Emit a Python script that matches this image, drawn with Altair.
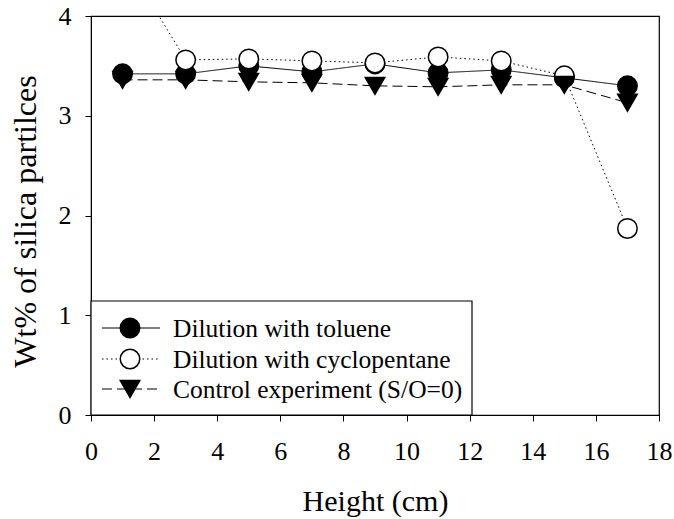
import altair as alt
import pandas as pd

heights = [1, 3, 5, 7, 9, 11, 13, 15, 17]
toluene = [3.42, 3.42, 3.50, 3.44, 3.52, 3.43, 3.46, 3.38, 3.30]
cyclopentane = [4.60, 3.56, 3.57, 3.55, 3.53, 3.59, 3.55, 3.40, 1.87]
control = [3.36, 3.36, 3.34, 3.33, 3.30, 3.29, 3.31, 3.31, 3.13]

names = ["Dilution with toluene", "Dilution with cyclopentane", "Control experiment (S/O=0)"]
series = [toluene, cyclopentane, control]

FONT = "Liberation Serif"
W, H = 568, 399

x_scale = alt.Scale(domain=[0, 18], nice=False, zero=False)
y_scale = alt.Scale(domain=[0, 4], nice=False)

x_axis = alt.Axis(values=list(range(0, 19, 2)), title="Height (cm)", grid=False,
                  tickSize=6, labelPadding=17, labelFontSize=26,
                  titleFontSize=30, labelFont=FONT, titleFont=FONT,
                  titleBaseline="alphabetic", titleY=95,
                  domainColor="black", tickColor="black", labelColor="black",
                  titleColor="black", titleFontWeight="normal", labelFlush=False)
y_axis = alt.Axis(values=[0, 1, 2, 3, 4], title="Wt% of silica partilces", grid=False,
                  tickSize=6, labelPadding=14, labelFontSize=26,
                  titleFontSize=32, labelFont=FONT, titleFont=FONT,
                  titleBaseline="alphabetic", titleX=-56, titleY=205, titleAngle=270,
                  titleAlign="center",
                  domainColor="black", tickColor="black", labelColor="black",
                  titleColor="black", titleFontWeight="normal", labelFlush=False)

styles = [
    dict(dash=[1, 0], fill="black", shape="circle"),
    dict(dash=[1.5, 3], fill="white", shape="circle"),
    dict(dash=[10, 5], fill="black", shape="triangle-down"),
]

line_layers = []
point_layers = []
for i, (name, vals) in enumerate(zip(names, series)):
    df = pd.DataFrame({"Height": heights, "Wt": vals, "Series": name})
    st = styles[i]
    base = alt.Chart(df).encode(
        x=alt.X("Height:Q", scale=x_scale, axis=x_axis),
        y=alt.Y("Wt:Q", scale=y_scale, axis=y_axis),
    )
    line_layers.append(base.mark_line(color="black", strokeWidth=1, strokeDash=st["dash"], clip=True))
    point_layers.append(base.mark_point(shape=st["shape"], size=380, filled=True, fill=st["fill"],
                                        stroke="black", strokeWidth=1.5, opacity=1, clip=True))

# legend box and entries (layout in pixels)
leg_df = pd.DataFrame({"label": names})
legend_layers = [
    alt.Chart(leg_df.head(1)).mark_rect(fill="white", stroke="black", strokeWidth=1.2).encode(
        x=alt.value(0), x2=alt.value(381), y=alt.value(285), y2=alt.value(H))
]
row_y = [312, 343, 373]
for i, name in enumerate(names):
    st = styles[i]
    d = leg_df.iloc[[i]]
    legend_layers.append(alt.Chart(d).mark_rule(color="black", strokeWidth=1, strokeDash=st["dash"]).encode(
        x=alt.value(11), x2=alt.value(69), y=alt.value(row_y[i])))
    legend_layers.append(alt.Chart(d).mark_point(shape=st["shape"], size=380, filled=True, fill=st["fill"],
                                                 stroke="black", strokeWidth=1.5, opacity=1).encode(
        x=alt.value(39), y=alt.value(row_y[i])))
    legend_layers.append(alt.Chart(d).mark_text(align="left", baseline="middle", font=FONT, fontSize=25.5,
                                                color="black").encode(
        x=alt.value(82), y=alt.value(row_y[i] + 1), text="label:N"))

chart = alt.layer(*line_layers, *point_layers, *legend_layers).properties(
    width=W, height=H,
    background="white",
    autosize=alt.AutoSizeParams(type="none"),
    padding={"left": 91, "top": 16, "right": 15, "bottom": 104},
).configure_view(stroke="black", strokeWidth=1.2)

chart.save("out.html", embed_options={"renderer": "svg", "actions": False})
